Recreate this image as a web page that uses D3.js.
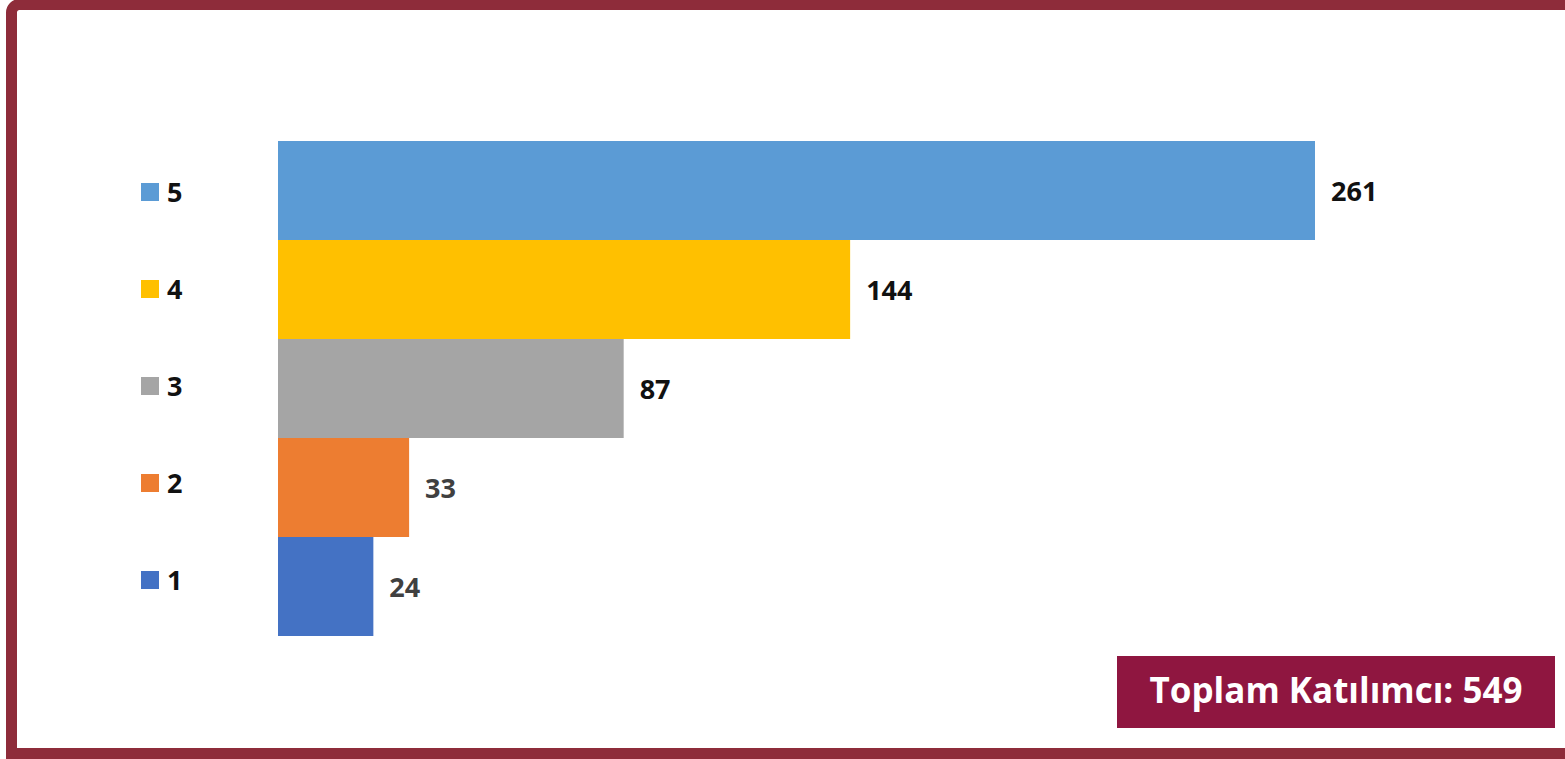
<!DOCTYPE html>
<html><head><meta charset="utf-8">
<script src="https://cdn.jsdelivr.net/npm/d3@7"></script>
<style>html,body{margin:0;padding:0;background:#fff;overflow:hidden}svg{display:block}</style>
</head><body>
<svg id="c" width="1565" height="759"></svg>
<script>
const categories = ["5", "4", "3", "2", "1"];
const values = [261, 144, 87, 33, 24];
const colors = ["#5B9BD5", "#FFC000", "#A5A5A5", "#ED7D31", "#4472C4"];
const labelColors = ["#111111", "#111111", "#111111", "#404040", "#404040"];
const legendLabels = ["5", "4", "3", "2", "1"];
const totalText = "Toplam Katılımcı: 549";

const svg = d3.select("#c");
const font = "'Open Sans', 'DejaVu Sans', sans-serif";

// frame: rounded top-left corner, square bottom-left
const fp = d3.path();
fp.moveTo(1700, 4.5);
fp.lineTo(19.5, 4.5);
fp.arcTo(11.5, 4.5, 11.5, 12.5, 8);
fp.lineTo(11.5, 753.5);
fp.lineTo(1700, 753.5);
svg.append("path").attr("d", fp.toString()).attr("fill", "none")
  .attr("stroke", "#8E2C3A").attr("stroke-width", 11).attr("stroke-linejoin", "miter");

const x = d3.scaleLinear().domain([0, 261]).range([278, 1315]);
const y = d3.scaleBand().domain(categories).range([141, 636]).padding(0);

const data = categories.map((c, i) => ({c, v: values[i], col: colors[i], lc: labelColors[i]}));

svg.append("g").selectAll("rect").data(data).join("rect")
  .attr("x", x(0)).attr("y", d => y(d.c))
  .attr("width", d => x(d.v) - x(0)).attr("height", y.bandwidth())
  .attr("fill", d => d.col);

svg.append("g").selectAll("text").data(data).join("text")
  .attr("x", d => x(d.v) + 16).attr("y", d => y(d.c) + y.bandwidth() / 2 - 0.5)
  .attr("dominant-baseline", "central")
  .attr("font-family", font).attr("font-weight", "bold").attr("font-size", 27)
  .attr("fill", d => d.lc).text(d => d.v);

// legend
const ly = d3.scalePoint().domain(legendLabels).range([192, 580]);
const lg = svg.append("g").selectAll("g").data(legendLabels.map((l, i) => ({l, col: colors[i]}))).join("g")
  .attr("transform", d => `translate(141,${ly(d.l)})`);
lg.append("rect").attr("x", 0).attr("y", -9).attr("width", 18).attr("height", 18).attr("fill", d => d.col);
lg.append("text").attr("x", 26).attr("y", -1).attr("dominant-baseline", "central")
  .attr("font-family", font).attr("font-weight", "bold").attr("font-size", 27)
  .attr("fill", "#111111").text(d => d.l);

// total box
svg.append("rect").attr("x", 1117).attr("y", 656).attr("width", 438).attr("height", 72).attr("fill", "#8F1640");
const t = svg.append("text").attr("x", 1336).attr("y", 703).attr("text-anchor", "middle")
  .attr("font-family", font).attr("font-weight", "bold").attr("font-size", 100)
  .attr("fill", "#ffffff").text(totalText);
const w = t.node().getComputedTextLength();
t.attr("font-size", 100 * 373 / w);
</script>
</body></html>
